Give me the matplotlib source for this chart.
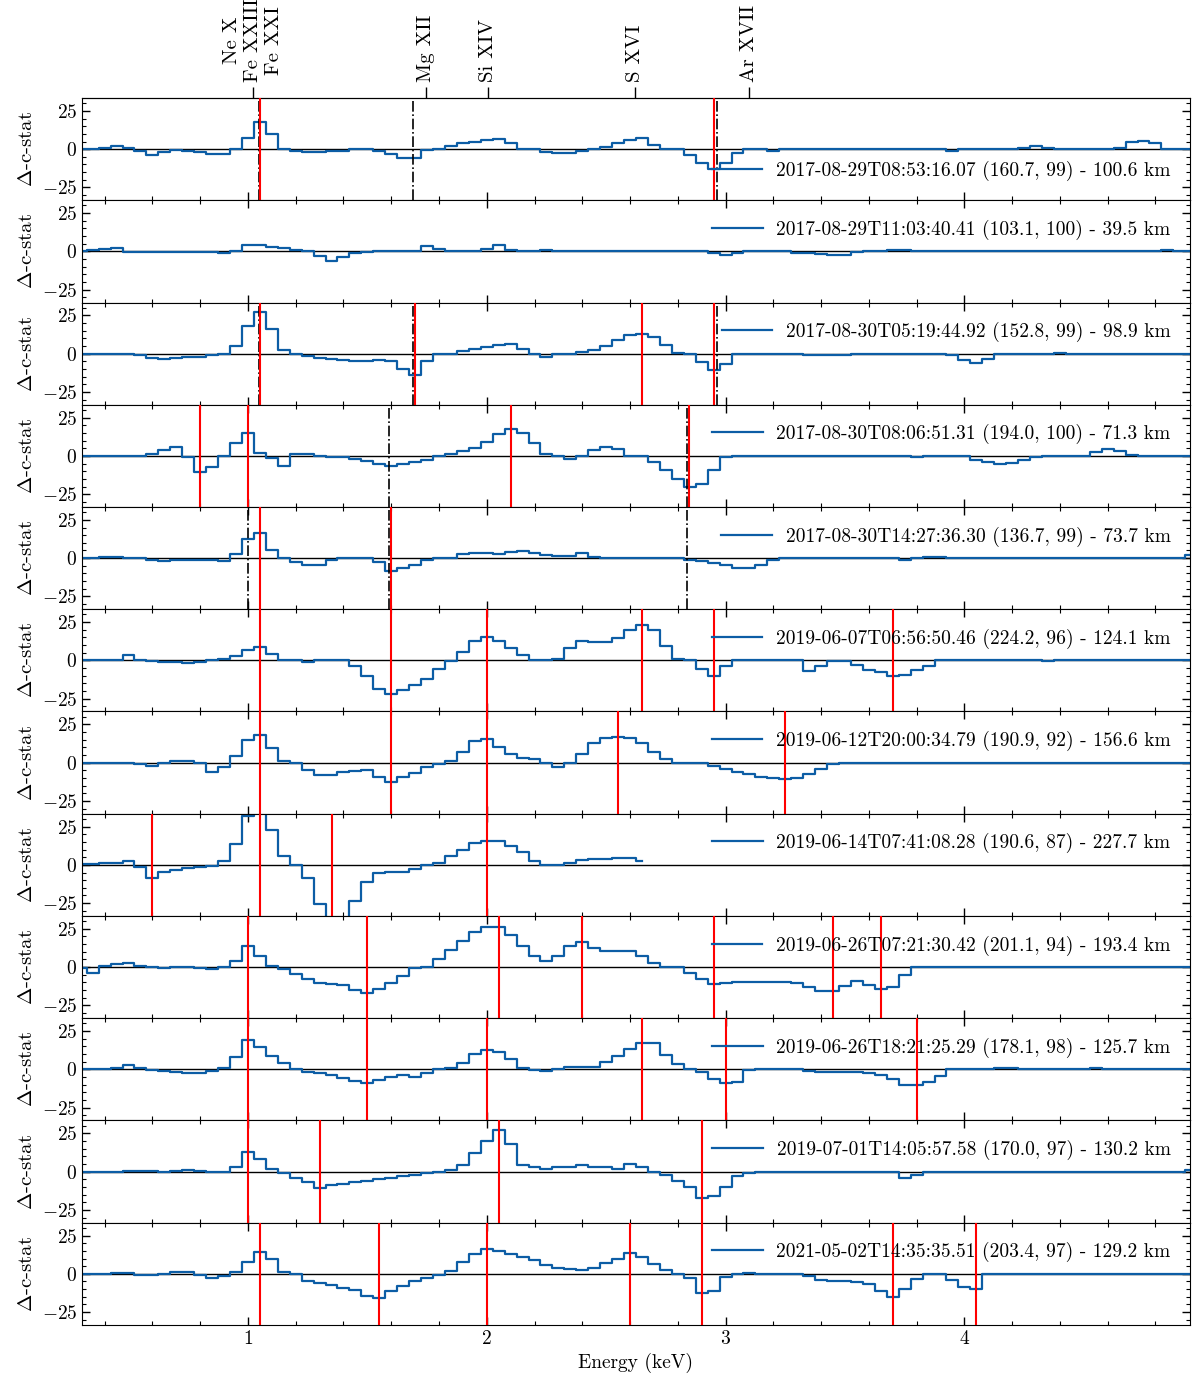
import matplotlib
matplotlib.use("Agg")
import matplotlib.pyplot as plt
from matplotlib.ticker import MultipleLocator
import numpy as np

plt.rcParams['font.family'] = 'serif'
plt.rcParams['font.serif'] = ['cmr10']
plt.rcParams['mathtext.fontset'] = 'cm'
plt.rcParams['axes.formatter.use_mathtext'] = True
plt.rcParams['font.size'] = 14

# bin centres (keV), 0.05 keV bins
energy = np.round(np.arange(0.30, 4.951, 0.05), 2)

labels = [
    '2017-08-29T08:53:16.07 (160.7, 99) - 100.6 km',
    '2017-08-29T11:03:40.41 (103.1, 100) - 39.5 km',
    '2017-08-30T05:19:44.92 (152.8, 99) - 98.9 km',
    '2017-08-30T08:06:51.31 (194.0, 100) - 71.3 km',
    '2017-08-30T14:27:36.30 (136.7, 99) - 73.7 km',
    '2019-06-07T06:56:50.46 (224.2, 96) - 124.1 km',
    '2019-06-12T20:00:34.79 (190.9, 92) - 156.6 km',
    '2019-06-14T07:41:08.28 (190.6, 87) - 227.7 km',
    '2019-06-26T07:21:30.42 (201.1, 94) - 193.4 km',
    '2019-06-26T18:21:25.29 (178.1, 98) - 125.7 km',
    '2019-07-01T14:05:57.58 (170.0, 97) - 130.2 km',
    '2021-05-02T14:35:35.51 (203.4, 97) - 129.2 km',
]

p1 = [0, 0, 1, 2, 1, -1.5, -4, -2, -0.5, -1.5,
      -2, -3, -3, 0, 7, 17.5, 10, 0, -1.5, -2,
      -2, -1, -1, 0, 0, -1, -3, -5.5, -5.5, -0.6,
      0, 2.3, 4, 5, 6, 6.6, 4, 0, 0, -2,
      -2.5, -2.5, -1, 0, 1.5, 4, 6, 7, 3, 0,
      0, -3.5, -9, -12.7, -9, -2.4, 0, 0, -1.5, 0,
      0, 0, 0, 0, 0, 0, 0, 0, 0, 0,
      0, 0, 0, -1, 0, 0, 0, 0, 0, 1,
      2, 1, 0, 0, 0, 0, 0, 1, 4.5, 5.5,
      4, 0, 0, 0]
p2 = [0, 1, 1.5, 2, -0.5, -0.5, -0.5, -0.5, -0.5, -0.5,
      -0.5, -0.5, -1, 0, 4, 4, 3, 2, 1, 0,
      -3, -6.5, -3.5, -1.3, -0.7, 0, 0, 0, 0, 3.3,
      1.5, 0, 0, 0, 1.5, 4, 1, 0, 0, 0.8,
      0, 0, 0, 0, 0, 0, 0.5, 0, 0, 0,
      0, 0, 0, -1, -2.4, -1, 0, 0, 0, 0,
      -1, -1, -1.8, -2.4, -2.4, -0.7, 0, 0, 1, 0.6,
      0, 0, 0, 0, 0, 0, 0, 0, 0, 0,
      0, 0, 0, 0, 0, 0, 0, 0, 0, 0,
      0.5, 1, 0, 0]
p3 = [0, 0, 0, 0, 0, -1, -3, -3.3, -2.6, -2.2,
      -2.2, -1, -0.4, 4.8, 18, 27.4, 16.4, 2.6, 0, -1.8,
      -2.9, -3.3, -4, -5, -5, -4.4, -5, -10, -13.8, -5,
      -0.4, 0, 1.5, 3.3, 4.4, 5.5, 6.4, 3.3, 0, -2.2,
      0, 0, 1, 2.6, 4.8, 8.8, 12, 12.7, 11, 5.5,
      0.4, -0.4, -5.5, -11, -6.6, 0, 0, 0, 0, 0,
      0, -1, -1, -0.7, -0.7, 0, 0, 0, 0, 0,
      0, 0, 0, -1, -4.4, -6.1, -3.3, 0, 0, 0,
      0, 0, 0.4, 0, 0, 0, 0, 0, 0, 0,
      0, 0, 0, 0]
p4 = [0, 0, 0, 0, 0, 0, 1, 4, 5.5, -0.5,
      -10.3, -7, 0, 8.3, 14.9, 1.75, -1.5, -6.4, 1.5, 1,
      0, -0.7, -0.7, -2.2, -3.5, -5, -6.6, -5, -4, -2.4,
      0, 1.5, 3, 5.3, 9.2, 14.3, 17.3, 14.7, 8.1, 1.5,
      0, -1.8, 0, 3.7, 5.9, 4.4, 0, 0, -4, -9.4,
      -15, -20, -18.4, -9.4, -0.7, 0, 0, 0, 0, 0,
      0, 0, 0, 0, 0, 0, 0, 0, 0, 0,
      -0.5, 0, 0, 0, 0, -2.4, -4, -5, -4.4, -2.9,
      -0.7, 0, 0, 0, 0, 2.6, 4.2, 3, 0.9, 0,
      0, 0, 0, 0]
p5 = [0, 0, 1, 1, 0, 0, -0.9, -2, -1, -1,
      -1, -1, -2, 2.8, 12.7, 16.7, 5.5, 0, -2.6, -4.2,
      -4.2, -0.9, 0, 0, 0, -2.6, -8.5, -6.6, -4.2, -1.5,
      0, 0, 2.8, 3.5, 3.5, 2.8, 3.9, 4.4, 3.5, 2.2,
      1.1, 1.3, 3.3, 0.7, 0, 0, 0, 0, 0, 0,
      0, -0.9, -2.2, -3, -4.8, -6.4, -6.4, -4.2, -0.9, 0,
      0, 0, 0, 0, 0, 0, 0, 0, 0, -0.9,
      0, 1, 1, 0, 0, 0, 0, 0, 0, 0,
      0, 0, 0, 0, 0, 0, 0, 0, 0, 0,
      0, 0, 0, 1.8]
p6 = [0, 0, 0, 0.5, 3.5, 0, -0.7, -0.9, -0.9, -1.8,
      -1.1, 0, 1.1, 3, 7, 8.8, 4.4, 0, 0, -0.9,
      0, 0, 0, -4, -10, -18.9, -21.9, -19.3, -16, -12.3,
      -5.7, -0.7, 5.3, 12.5, 15.1, 12.5, 8.1, 3.7, 0, 0,
      0.9, 8.1, 12.9, 12, 12, 14.7, 19.7, 23, 19.7, 9.2,
      0.9, 0, -5.7, -10.5, -4, 0, 0, 0, 0, 0,
      0, -7.2, -4, -0.7, -0.7, -2.9, -6.1, -7.7, -10.5, -9.4,
      -6.1, -3.5, 0, 0, 0, 0, 0, 0, 0, 0,
      0, -0.7, 0, 0, 0, 0, 0, 0, 0, 0,
      0, 0, 0, 0]
p7 = [0, 0, 0, 0, 0, -1.1, -2, -0.4, 1.1, 1.1,
      -0.4, -5.9, -2.6, 4.4, 14.9, 17.8, 9.4, 1.1, -0.4, -4.8,
      -8.1, -8.1, -5.9, -5.3, -4.8, -9.2, -12.5, -9.6, -6.6, -2.6,
      -0.9, 1.1, 7.2, 14.3, 15.6, 10.5, 5.5, 3.3, 2.2, -0.4,
      -2.6, -0.4, 5.5, 12.7, 16, 16.7, 16, 12.7, 7.2, 2.2,
      0, 0, 0, -2.2, -4.2, -5.9, -7.5, -9.2, -10.3, -11,
      -10.3, -7.7, -4.2, -0.9, 0, 0, 0, 0, 0, 0,
      0, 0, 0, 0, 0, 0, 0, 0, 0, 0,
      0, 0, 0, 0, 0, 0, 0, 0, 0, 0,
      0, 0, 0, 0]
p8 = [0.7, 0.7, 1.3, 1.3, 2.4, -1.5, -8.6, -4.8, -3.1, -2,
      -1.1, -0.7, 2.4, 13.8, 32, 40, 23, 5.5, 0, -8.6,
      -25.7, -40, -40, -23.5, -11.4, -5.5, -4.4, -4.4, -2.9, 0,
      1.5, 5.5, 9.6, 14, 15.8, 15.4, 12.5, 8.1, 2.6, 0,
      0, 1.5, 3, 3.7, 3.7, 4.2, 4.8, 2.6]
p9 = [-0.7, -4, 0.4, 2, 3, 0.9, 0, -0.7, 0, 0,
      -0.5, -1.1, 0, 4.2, 13.6, 7.5, 0.4, -1.1, -4.4, -7.7,
      -10.1, -11.2, -12, -15, -17.1, -14.5, -10.5, -5.7, -0.7, 0,
      5.3, 11.4, 16.9, 22.8, 26.1, 26.1, 21.3, 13.6, 7, 3.7,
      7.5, 14, 16.4, 12.5, 10.7, 10.7, 10.3, 7, 3, 0,
      0, -4, -7.9, -11.2, -10.5, -9.9, -9.9, -9.9, -9.9, -9.9,
      -10.5, -13.2, -15.4, -15.4, -12.3, -9.4, -11.6, -14.5, -13.2, -5,
      0, 0, 0, 0, 0, 0, 0, 0, 0, 0,
      0, 0, 0, 0, 0, 0, 0, 0, 0, 0,
      0, 0, 0, 0]
p10 = [0, 0, 0, 1.1, 2.9, 1.1, -0.4, -1.1, -1.8, -2.6,
       -2.6, -1.1, 1.1, 8.3, 19.3, 14.3, 8.8, 4.4, 0, -1.5,
       -2.6, -3.9, -5.9, -7.7, -8.8, -7.2, -5, -3.9, -4.8, -2.6,
       0, 1.1, 4.4, 9.9, 12.5, 11.4, 7, 1.1, -0.4, -1.1,
       0.4, 1.8, 1.8, 1.8, 5, 8.8, 13.6, 17.5, 17.1, 9.2,
       3.3, 0, -1.5, -6.1, -8.8, -8.1, -0.4, 0, 0, 0,
       0, -1.1, -1.8, -1.8, -1.8, -1.8, -2.6, -3.7, -6.6, -10.5,
       -10.5, -8.1, -4.4, 0, 0, 0, 0, 1.1, 1.1, 0,
       0, 0, 0, 0, 0, 1.1, 0, 0, 0, 0,
       0, 0, 0, 0]
p11 = [0, 0, 0, 0, 0.5, 0.5, 0.3, 0, 0.5, 1,
       0.5, 0, -0.5, 3, 12.5, 8, 2, -1, -4, -7,
       -10.5, -9, -8, -7, -6, -5, -4, -3, -2, -1,
       0, 1, 4, 12, 20, 27, 18, 4, 3, 2,
       3, 3, 4, 3, 3, 2, 5, 3, 0, -2,
       -6, -10, -17, -16, -10, -3, -1, 0, 0, 0,
       0, 0, 0, 0, 0, 0, 0, 0, 0, -4,
       -2, 0, 0, 0, 0, 0, 0, 0, 0, 0,
       0, 0, 0, 0, 0, 0, 0, 0, 0, 0,
       0, 0, 0, 1]
p12 = [0, 0, 0, 0.7, 0.7, -0.5, -0.9, 0, 1.5, 0.9,
       -0.9, -2.4, -1.5, 1.1, 7.9, 14.5, 9.9, 1.5, -0.4, -4.4,
       -5.9, -7.5, -9.2, -10.3, -14.3, -15.8, -11.4, -8, -5, -3,
       -1, 2, 8, 13, 16, 15, 13, 11, 9, 6,
       4, 3, 2.5, 4, 7.2, 10, 13.8, 11, 6.1, 2.2,
       0, -2.6, -12.5, -11, -2.2, -0.4, 0.7, 0, 0, 0,
       0, -1.3, -3.9, -4.8, -4.8, -5.3, -6.6, -11.4, -15.4, -9.6,
       -3.7, 0, 0, -4.2, -8.8, -9.9, 0, 0, 0, 0,
       0, 0, 0, 0, 0, 0, 0, 0, 0, 0,
       0, 0, 0, 0]
series = [p1, p2, p3, p4, p5, p6, p7, p8, p9, p10, p11, p12]

# fitted line energies (red) and reference energies (black dash-dot)
red_lines = [
    [1.05, 2.95], [], [1.05, 1.7, 2.65, 2.95], [0.8, 1.0, 2.1, 2.845],
    [1.05, 1.6], [1.05, 1.6, 2.0, 2.65, 2.95, 3.7],
    [1.05, 1.6, 2.0, 2.55, 3.25], [0.6, 1.05, 1.35, 2.0],
    [1.0, 1.5, 2.05, 2.4, 2.95, 3.45, 3.65], [1.0, 1.5, 2.0, 2.65, 3.0, 3.8],
    [1.0, 1.3, 2.05, 2.9], [1.05, 1.55, 2.0, 2.6, 2.9, 3.7, 4.05],
]
black_lines = [
    [1.045, 1.69, 2.965], [], [1.045, 1.69, 2.965], [1.59, 2.84],
    [1.0, 1.59, 2.84], [], [], [], [], [], [], [],
]

ion_energy = [1.021, 1.745, 2.005, 2.62, 3.10]
ion_labels = ['Ne X\nFe XXIII\nFe XXI', 'Mg XII', 'Si XIV', 'S XVI', 'Ar XVII']

blue = '#0C5DA5'

fig, axes = plt.subplots(12, 1, figsize=(12, 13.77), dpi=100, sharex=True)
fig.subplots_adjust(left=0.0683, right=0.9917, top=0.9288, bottom=0.0378, hspace=0)

for k, ax in enumerate(axes):
    vals = series[k]
    ax.axhline(0, color='k', lw=1.0, zorder=1)
    ax.step(energy[:len(vals)], vals, where='mid', color=blue, lw=1.6,
            label=labels[k], zorder=2)
    for e in black_lines[k]:
        ax.axvline(e, color='k', ls='-.', lw=1.2, zorder=3)
    for e in red_lines[k]:
        ax.axvline(e, color='red', lw=1.5, zorder=4)
    ax.set_ylim(-33.4, 33.4)
    ax.set_xlim(0.305, 4.945)
    ax.set_yticks([-25, 0, 25])
    ax.yaxis.set_minor_locator(MultipleLocator(5))
    ax.xaxis.set_major_locator(MultipleLocator(1))
    ax.xaxis.set_minor_locator(MultipleLocator(0.2))
    ax.tick_params(which='both', direction='in', top=True, right=True)
    ax.tick_params(which='major', length=6, width=1.0)
    ax.tick_params(which='minor', length=3, width=0.8)
    ax.set_ylabel(r'$\Delta$-c-stat', fontsize=15)
    ax.legend(loc='lower right' if k == 0 else 'upper right',
              frameon=False, handlelength=2.6, handletextpad=0.7,
              borderaxespad=0.6)

# ion labels on top of the first panel
axes[0].tick_params(which='both', top=False)
sec = axes[0].secondary_xaxis('top')
sec.set_xticks(ion_energy, ion_labels, rotation=90)
sec.tick_params(direction='out', length=8, width=1.0, labelsize=15)
sec.xaxis.set_minor_locator(plt.NullLocator())

axes[-1].set_xlabel('Energy (keV)')

fig.savefig('out.png', dpi=100)
